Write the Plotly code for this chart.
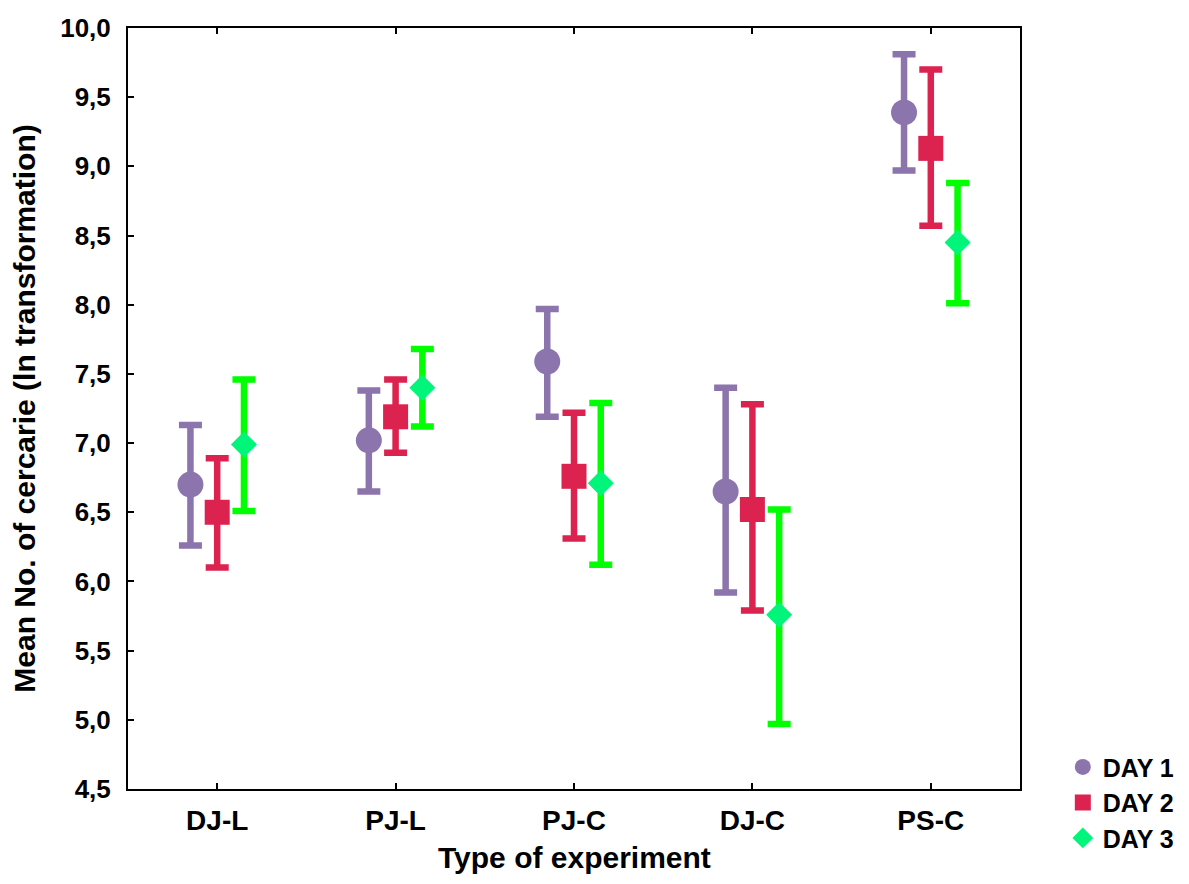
import plotly.graph_objects as go

categories = ["DJ-L", "PJ-L", "PJ-C", "DJ-C", "PS-C"]

day1_mean = [6.70, 7.02, 7.59, 6.65, 9.39]
day1_upper = [7.13, 7.38, 7.97, 7.40, 9.81]
day1_lower = [6.26, 6.65, 7.19, 5.92, 8.97]

day2_mean = [6.50, 7.19, 6.76, 6.52, 9.13]
day2_upper = [6.89, 7.46, 7.22, 7.28, 9.70]
day2_lower = [6.10, 6.93, 6.31, 5.79, 8.57]

day3_mean = [6.99, 7.40, 6.71, 5.76, 8.45]
day3_upper = [7.46, 7.68, 7.29, 6.52, 8.88]
day3_lower = [6.51, 7.12, 6.12, 4.97, 8.01]

y_tickvals = [4.5, 5.0, 5.5, 6.0, 6.5, 7.0, 7.5, 8.0, 8.5, 9.0, 9.5, 10.0]
y_ticktext = ["4,5", "5,0", "5,5", "6,0", "6,5", "7,0", "7,5", "8,0", "8,5", "9,0", "9,5", "10,0"]

x_title = "Type of experiment"
y_title = "Mean No. of cercarie (ln transformation)"

series = [
    ("DAY 1", day1_mean, day1_upper, day1_lower, "circle", 26, "#8C74AC", "#8C74AC"),
    ("DAY 2", day2_mean, day2_upper, day2_lower, "square", 25, "#DC2350", "#DC2350"),
    ("DAY 3", day3_mean, day3_upper, day3_lower, "diamond", 20, "#00F57A", "#00FF00"),
]

FONT = "Liberation Sans, Arial, sans-serif"

fig = go.Figure()
for name, mean, up, lo, sym, size, mcol, ecol in series:
    fig.add_trace(go.Scatter(
        x=categories, y=mean, name=name, mode="markers",
        marker=dict(symbol=sym, size=size, color=mcol, line=dict(width=0)),
        error_y=dict(type="data", symmetric=False,
                     array=[u - m for u, m in zip(up, mean)],
                     arrayminus=[m - l for m, l in zip(mean, lo)],
                     color=ecol, thickness=6.5, width=11.5),
    ))

fig.add_annotation(
    text=x_title, xref="paper", yref="paper", x=0.5, y=-0.0895,
    xanchor="center", yanchor="middle", showarrow=False,
    font=dict(family=FONT, size=30, color="black", weight="bold"),
)

fig.update_layout(
    width=1173, height=868,
    margin=dict(l=120, r=161, t=20, b=87, autoexpand=False),
    paper_bgcolor="white", plot_bgcolor="white",
    scattermode="group", scattergap=0.55,
    font=dict(family=FONT, color="black"),
    showlegend=True,
    legend=dict(x=1.048, xanchor="left", y=-0.018, yanchor="middle",
                font=dict(family=FONT, size=25, color="black", weight="bold"),
                tracegroupgap=0, itemsizing="trace", bgcolor="rgba(0,0,0,0)"),
    xaxis=dict(
        type="category", range=[-0.5, 4.5], automargin=False,
        showline=True, linecolor="black", linewidth=2, mirror="ticks",
        ticks="inside", ticklen=6, tickwidth=2, tickcolor="black",
        showgrid=False, zeroline=False,
        tickfont=dict(family=FONT, size=28, color="black", weight="bold"),
        ticklabelstandoff=5,
    ),
    yaxis=dict(
        range=[4.5, 10.0], tickvals=y_tickvals, ticktext=y_ticktext, automargin=False,
        showline=True, linecolor="black", linewidth=2, mirror=True,
        ticks="inside", ticklen=6, tickwidth=2, tickcolor="black",
        showgrid=False, zeroline=False,
        tickfont=dict(family=FONT, size=26, color="black", weight="bold"),
        ticklabelstandoff=10,
        title=dict(text=y_title, standoff=20,
                   font=dict(family=FONT, size=30, color="black", weight="bold")),
    ),
    yaxis2=dict(
        overlaying="y", side="right", anchor="x", range=[0, 13], dtick=1,
        ticks="inside", ticklen=6, tickwidth=2, tickcolor="black", automargin=False,
        showticklabels=False, showgrid=False, zeroline=False, showline=False,
    ),
)

fig.write_html("out.html")
